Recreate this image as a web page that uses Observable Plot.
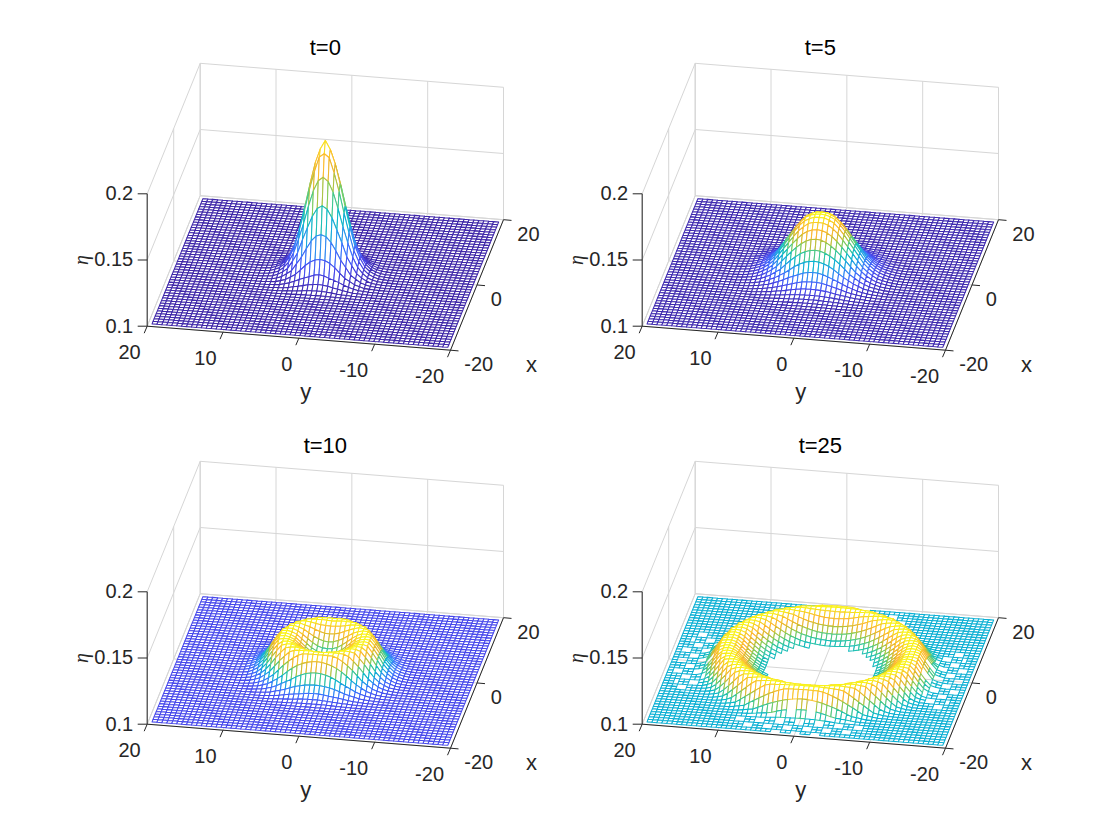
<!DOCTYPE html>
<html><head><meta charset="utf-8">
<script src="https://cdn.jsdelivr.net/npm/d3@7"></script>
<script src="https://cdn.jsdelivr.net/npm/@observablehq/plot@0.6"></script>
<style>html,body{margin:0;padding:0;background:#fff}</style>
</head><body><div id="chart"></div>
<script>
// Panel titles and their grid slots
const titles = ["t=0", "t=5", "t=10", "t=25"];
const cols = [0, 1, 0, 1];
const rows = [0, 0, 1, 1];

// Radial surface profile: eta at each radius from the centre
const radii   = [0, 1, 2, 3, 4, 5, 6, 7, 8, 9, 10, 11, 12, 13, 14, 15, 16, 17, 18, 30];
const etaT0   = [.2, .19, .167, .141, .12, .108, .103, .1007, .1002, .1, .1, .1, .1, .1, .1, .1, .1, .1, .1, .1];
const etaT5   = [.1445, .1438, .141, .135, .127, .119, .111, .106, .1028, .1012, .1004, .1, .1, .1, .1, .1, .1, .1, .1, .1];
const etaT10  = [.11, .111, .114, .119, .124, .1265, .1258, .118, .109, .1035, .101, .1002, .1, .1, .1, .1, .1, .1, .1, .1];
const etaT25  = [.0885, .089, .09, .091, .093, .095, .0975, .1005, .103, .107, .112, .117, .1185, .1172, .109, .102, .1002, .1, .1, .1];
const profiles = [etaT0, etaT5, etaT10, etaT25];

// Colour limits of each panel's surface (eta at the bottom and top of the colormap)
const colorLow  = [.1, .0995, .097, .0885];
const colorHigh = [.2, .1445, .1265, .1185];

// Parula colormap
const parula = ["#3e26a8", "#4747eb", "#3e6ffe", "#2797eb", "#08b5d0", "#31c69f", "#81cc59", "#d1bb30", "#fdb52f", "#f8cc2b", "#f9fb15"];

// Mesh nodes
const meshStepX = 0.8, meshHalfCountX = 24;
const meshStepY = 0.65, meshHalfCountY = 30;

// Ripple patches on the floor of t=25, where the surface dips under the z limit
const patchCentersX = [0, 0, 16.5, -16.5];
const patchCentersY = [16.5, -16.5, 0, 0];
const patchLongAxis = 9.5;
const patchShortAxis = 2.6;
const patchPanel = 3;

// Axis ticks
const xTicks = [-20, 0, 20];
const yTicks = [-20, -10, 0, 10, 20];
const zTicks = [0.1, 0.15, 0.2];
const zTickLabels = ["0.1", "0.15", "0.2"];
const xLim = [-20, 20], yLim = [-20, 20], zLim = [0.1, 0.2];

// Orthographic view of one panel
const view = {ox: 86.7, oy: 305.7, xu: 53 / 40, xv: -130.5 / 40, yu: -303.3 / 40, yv: -24 / 40, zv: -132.4 / 0.1};
const project = (x, y, z) => ({
  u: view.ox + (x + 20) * view.xu + (y - 20) * view.yu,
  v: view.oy + (x + 20) * view.xv + (y - 20) * view.yv + (z - 0.1) * view.zv
});

const etaAt = (profile, r) => {
  const k = d3.bisectRight(radii, r) - 1;
  const t = (r - radii[k]) / (radii[k + 1] - radii[k]);
  return profile[k] + t * (profile[k + 1] - profile[k]);
};
const inPatch = (x, y) => patchCentersX.some((cx, k) => {
  const cy = patchCentersY[k];
  const [a, b] = cx === 0 ? [patchLongAxis, patchShortAxis] : [patchShortAxis, patchLongAxis];
  return ((x - cx) / a) ** 2 + ((y - cy) / b) ** 2 < 1;
});

// Quads, back to front
const quads = [];
titles.forEach((_, p) => {
  const prof = profiles[p];
  const tone = z => (z - colorLow[p]) / (colorHigh[p] - colorLow[p]);
  for (let i = meshHalfCountX; i > -meshHalfCountX; --i) {
    for (let j = meshHalfCountY; j > -meshHalfCountY; --j) {
      const corners = [[i, j], [i - 1, j], [i - 1, j - 1], [i, j - 1], [i, j]].map(([a, b]) => {
        const x = a * meshStepX, y = b * meshStepY;
        return {x, y, z: etaAt(prof, Math.hypot(x, y))};
      });
      const ring = corners.slice(0, 4);
      if (ring.some(c => c.z < zLim[0] - 1e-9)) continue;
      const cx = d3.mean(ring, c => c.x), cy = d3.mean(ring, c => c.y);
      if (p === patchPanel && inPatch(cx, cy)
          && (Math.floor((i + 100) / 2) + Math.floor((j + 100) / 2)) % 2 === 0) continue;
      const level = Math.min(1, Math.max(0, tone(d3.mean(ring, c => c.z))));
      const key = `${p}:${i}:${j}`;
      for (const c of corners) {
        const s = project(c.x, c.y, c.z);
        quads.push({key, u: s.u, v: s.v, level, col: cols[p], row: rows[p]});
      }
    }
  }
});

// Per-panel decoration tables
const everyPanel = build => titles.flatMap((t, p) => build(t).map(d => ({...d, col: cols[p], row: rows[p]})));
const seg = (a, b) => {
  const s = project(...a), e = project(...b);
  return {u1: s.u, v1: s.v, u2: e.u, v2: e.v};
};
const [x0, x1] = xLim, [y0, y1] = yLim, [z0, z1] = zLim;
const zMid = zTicks[1];

const gridSegs = everyPanel(() => [
  // back wall
  ...yTicks.map(y => seg([x1, y, z0], [x1, y, z1])),
  ...zTicks.map(z => seg([x1, y0, z], [x1, y1, z])),
  // side wall
  ...xTicks.map(x => seg([x, y1, z0], [x, y1, z1])),
  ...zTicks.map(z => seg([x0, y1, z], [x1, y1, z])),
  // floor
  ...yTicks.map(y => seg([x0, y, z0], [x1, y, z0])),
  ...xTicks.map(x => seg([x, y0, z0], [x, y1, z0]))
]);
const axisSegs = everyPanel(() => [
  seg([x0, y1, z0], [x0, y1, z1]),
  seg([x0, y0, z0], [x0, y1, z0]),
  seg([x0, y0, z0], [x1, y0, z0])
]);
const tickLink = (s, du, dv) => ({u1: s.u, v1: s.v, u2: s.u + du, v2: s.v + dv});
const tickSegs = everyPanel(() => [
  ...zTicks.map(z => tickLink(project(x0, y1, z), -9.5, 0)),
  ...yTicks.map(y => tickLink(project(x0, y, z0), -3, 7)),
  ...xTicks.map(x => tickLink(project(x, y0, z0), 8, 0.7))
]);
const at = (x, y, z) => project(x, y, z);
const yLabels = everyPanel(() => yTicks.map(y => ({...at(x0, y, z0), text: String(y)})));
const xLabels = everyPanel(() => xTicks.map(x => ({...at(x, y0, z0), text: String(x)})));
const zLabels = everyPanel(() => zTicks.map((z, k) => ({...at(x0, y1, z), text: zTickLabels[k]})));
const titleLabels = everyPanel(t => [{...at(0, 0, z0), text: t}]);
const xName = everyPanel(() => [{...at(x0, y0, z0), text: "x"}]);
const yName = everyPanel(() => [{...at(x0, 0, z0), text: "y"}]);
const zName = everyPanel(() => [{...at(x0, y1, zMid), text: "η"}]);

const ink = "#262626";
const links = (data, stroke, strokeWidth) => Plot.link(data, {x1: "u1", y1: "v1", x2: "u2", y2: "v2", fx: "col", fy: "row", stroke, strokeWidth, strokeOpacity: 1});
const labels = (data, opts) => Plot.text(data, {x: "u", y: "v", text: "text", fx: "col", fy: "row", fill: ink, fontSize: 20, ...opts});

const chart = Plot.plot({
  width: 1120, height: 840,
  marginLeft: 60, marginRight: 70, marginTop: 20, marginBottom: 24,
  style: {background: "white", fontFamily: "'Liberation Sans', Arial, sans-serif"},
  fx: {domain: [0, 1], axis: null, padding: 0},
  fy: {domain: [0, 1], axis: null, padding: 0},
  x: {domain: [0, 495], axis: null},
  y: {domain: [398, 0], axis: null},
  color: {type: "linear", domain: [0, 1], interpolate: d3.piecewise(d3.interpolateRgb, parula)},
  marks: [
    links(gridSegs, "#d6d6d6", 1),
    links(axisSegs, ink, 1),
    links(tickSegs, ink, 1),
    Plot.line(quads, {x: "u", y: "v", z: "key", fx: "col", fy: "row", stroke: "level", fill: "white", strokeWidth: 1.05, curve: "linear", strokeLinejoin: "round"}),
    labels(yLabels, {textAnchor: "end", dx: -6.5, dy: 26}),
    labels(xLabels, {textAnchor: "start", dx: 13.8, dy: 14.5}),
    labels(zLabels, {textAnchor: "end", dx: -14, dy: 0}),
    labels(titleLabels, {fill: "#000", fontSize: 22, dy: -225}),
    labels(xName, {fontSize: 22, dx: 81, dy: 14.5}),
    labels(yName, {fontSize: 22, dx: 7, dy: 54}),
    labels(zName, {fontSize: 20, dx: -66, dy: 0, rotate: -90, fontStyle: "italic", fontFamily: "'Liberation Serif', serif"})
  ]
});
document.getElementById("chart").append(chart);
</script></body></html>
